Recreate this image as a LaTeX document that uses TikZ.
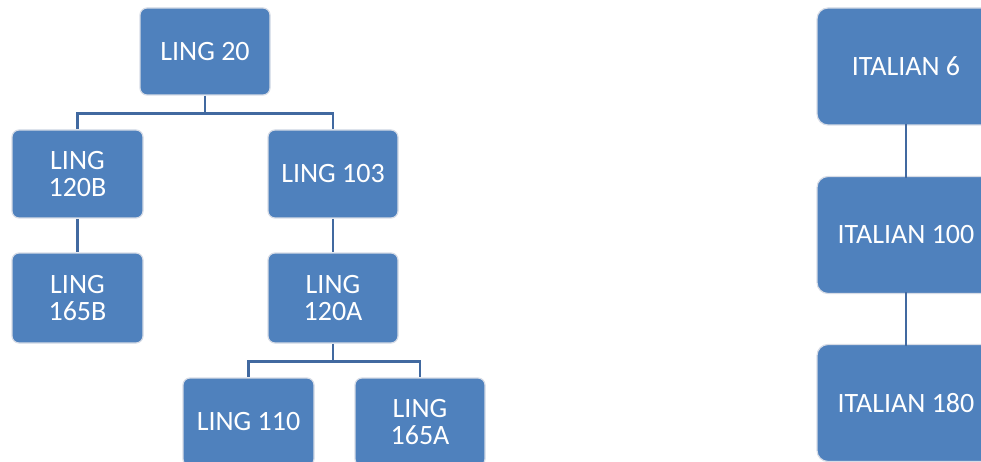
\documentclass[tikz,border=0pt]{standalone}
\usepackage{fontspec}
\setmainfont{Carlito}
\usetikzlibrary{backgrounds}
\definecolor{boxblue}{RGB}{79,129,189}
\definecolor{linkblue}{RGB}{65,105,160}
\definecolor{edgegray}{RGB}{215,220,230}
\tikzset{
  course/.style={rectangle, rounded corners=7pt, fill=boxblue, draw=edgegray, line width=1.2pt,
    text=white, align=center, inner sep=0pt,
    font=\fontsize{28}{27.5}\selectfont},
  lbox/.style={course, minimum width=130pt, minimum height=88pt},
  ibox/.style={course, rounded corners=11pt, minimum width=178pt, minimum height=117pt},
  link/.style={draw=linkblue, line width=2.8pt}
}
\begin{document}
\begin{tikzpicture}[x=1pt,y=-1pt]
\useasboundingbox (0,0) rectangle (981,462);
\clip (0,0) rectangle (981,462);
\node[lbox, minimum height=87pt] (l20) at (205,51.5) {LING 20};
\node[lbox, minimum width=131pt] (l120b) at (77.5,174) {LING\\120B};
\node[lbox, minimum width=131pt, minimum height=90pt] (l165b) at (77.5,298) {LING\\165B};
\node[lbox] (l103) at (333,174) {LING 103};
\node[lbox, minimum height=90pt] (l120a) at (333,298) {LING\\120A};
\node[lbox, minimum width=131pt] (l110) at (248.5,422) {LING 110};
\node[lbox] (l165a) at (420,422) {LING\\165A};
\node[ibox] (i6) at (906,66.5) {ITALIAN 6};
\node[ibox] (i100) at (906,235) {ITALIAN 100};
\node[ibox] (i180) at (906,403) {ITALIAN 180};
\begin{scope}[on background layer]
\draw[link] (l20.south) -- ++(0,18) -| (l120b.north);
\draw[link] (l20.south) -- ++(0,18) -| (l103.north);
\draw[link] (l120b.south) -- (l165b.north);
\draw[link] (l103.south) -- (l120a.north);
\draw[link] (l120a.south) -- ++(0,18) -| (l110.north);
\draw[link] (l120a.south) -- ++(0,18) -| (l165a.north);
\end{scope}
\draw[link] ([yshift=2pt]i6.south) -- ([yshift=-2pt]i100.north);
\draw[link] ([yshift=2pt]i100.south) -- ([yshift=-2pt]i180.north);
\end{tikzpicture}
\end{document}
